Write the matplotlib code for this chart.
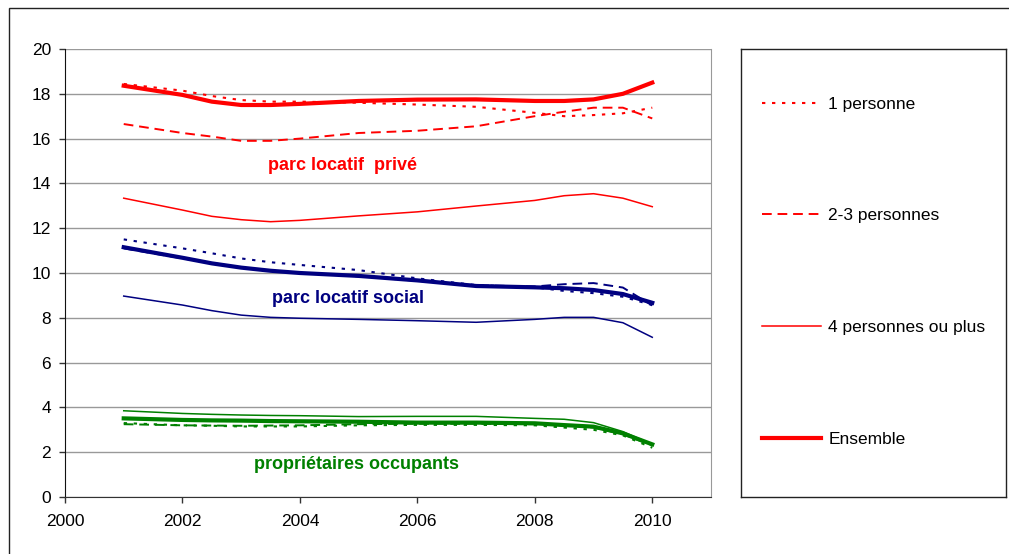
import matplotlib.pyplot as plt
from matplotlib.patches import Rectangle

plt.rcParams['font.family'] = ['Liberation Sans', 'DejaVu Sans']

years = [2001, 2002, 2002.5, 2003, 2003.5, 2004, 2005, 2006, 2007, 2008, 2008.5, 2009, 2009.5, 2010]

# parc locatif privé
prive_ensemble = [18.36, 17.95, 17.65, 17.5, 17.5, 17.55, 17.68, 17.74, 17.75, 17.68, 17.68, 17.75, 18.0, 18.5]
prive_1 = [18.44, 18.14, 17.9, 17.72, 17.65, 17.65, 17.6, 17.52, 17.42, 17.15, 17.0, 17.05, 17.13, 17.38]
prive_23 = [16.65, 16.25, 16.09, 15.9, 15.9, 16.0, 16.25, 16.35, 16.55, 17.0, 17.2, 17.38, 17.38, 16.9]
prive_4 = [13.34, 12.81, 12.53, 12.38, 12.29, 12.35, 12.55, 12.73, 12.99, 13.24, 13.45, 13.54, 13.34, 12.96]

# parc locatif social
social_ensemble = [11.15, 10.68, 10.43, 10.24, 10.1, 10.0, 9.87, 9.67, 9.42, 9.36, 9.32, 9.24, 9.06, 8.67]
social_1 = [11.5, 11.1, 10.88, 10.65, 10.48, 10.36, 10.13, 9.76, 9.46, 9.36, 9.2, 9.1, 8.94, 8.57]
social_23 = [11.1, 10.65, 10.45, 10.25, 10.1, 10.0, 9.85, 9.65, 9.45, 9.4, 9.5, 9.55, 9.35, 8.55]
social_4 = [8.97, 8.57, 8.32, 8.12, 8.02, 7.98, 7.93, 7.87, 7.8, 7.93, 8.02, 8.02, 7.78, 7.13]

# propriétaires occupants
proprio_ensemble = [3.51, 3.44, 3.42, 3.41, 3.39, 3.38, 3.36, 3.32, 3.32, 3.29, 3.21, 3.14, 2.84, 2.35]
proprio_1 = [3.3, 3.2, 3.18, 3.15, 3.15, 3.15, 3.2, 3.22, 3.22, 3.2, 3.1, 3.0, 2.75, 2.2]
proprio_23 = [3.25, 3.2, 3.19, 3.18, 3.19, 3.2, 3.25, 3.27, 3.27, 3.25, 3.2, 3.1, 2.8, 2.3]
proprio_4 = [3.85, 3.73, 3.69, 3.66, 3.64, 3.63, 3.59, 3.6, 3.6, 3.51, 3.47, 3.32, 2.92, 2.35]

labels = ["1 personne", "2-3 personnes", "4 personnes ou plus", "Ensemble"]

W, H = 1009, 554
fig = plt.figure(figsize=(W / 100, H / 100), dpi=100)

# cadre extérieur
fig.add_artist(Rectangle((9 / W, -0.05), 1.1, 1.05 - 8 / H, transform=fig.transFigure,
                         fill=False, edgecolor='#222222', lw=1))

ax = fig.add_axes([65 / W, 1 - 497 / H, (711 - 65) / W, (497 - 49) / H])

groups = [
    ('#ff0000', prive_1, prive_23, prive_4, prive_ensemble),
    ('#000080', social_1, social_23, social_4, social_ensemble),
    ('#008000', proprio_1, proprio_23, proprio_4, proprio_ensemble),
]
handles = []
for color, s1, s23, s4, sens in groups:
    h1, = ax.plot(years, s1, color=color, lw=1.5, linestyle=(0, (1.6, 3.2)))
    h2, = ax.plot(years, s23, color=color, lw=1.4, linestyle=(0, (5, 3)))
    h3, = ax.plot(years, s4, color=color, lw=1.1)
    h4, = ax.plot(years, sens, color=color, lw=3)
    if not handles:
        handles = [h1, h2, h3, h4]

ax.text(2004.72, 14.78, "parc locatif  privé", color='#ff0000', fontsize=13,
        fontweight='bold', ha='center', va='center')
ax.text(2004.82, 8.88, "parc locatif social", color='#000080', fontsize=13,
        fontweight='bold', ha='center', va='center')
ax.text(2004.96, 1.43, "propriétaires occupants", color='#008000', fontsize=13,
        fontweight='bold', ha='center', va='center')

ax.set_xlim(2000, 2011)
ax.set_ylim(0, 20)
ax.set_xticks(range(2000, 2011, 2))
ax.set_yticks(range(0, 21, 2))
ax.tick_params(labelsize=12.5, direction='out', length=4, width=1, color='#333333')
ax.tick_params(axis='x', pad=8)
ax.tick_params(axis='y', pad=6)
ax.yaxis.grid(True, color='#999999', lw=1)
ax.set_axisbelow(True)
ax.spines['top'].set_visible(False)
ax.spines['right'].set_color('#999999')
ax.spines['left'].set_color('#111111')
ax.spines['bottom'].set_color('#333333')

# légende dans son propre cadre
lax = fig.add_axes([741 / W, 1 - 497 / H, (1006 - 741) / W, (497 - 49) / H])
lax.set_xticks([])
lax.set_yticks([])
for sp in lax.spines.values():
    sp.set_color('#222222')
    sp.set_linewidth(1)
lax.legend(handles, labels, loc='upper left', bbox_to_anchor=(0.0775, 0.894),
           frameon=False, fontsize=12.5, handlelength=3.4, handletextpad=0.45,
           labelspacing=5.57, borderaxespad=0.0, borderpad=0.0)

fig.savefig('out.png', dpi=100)
